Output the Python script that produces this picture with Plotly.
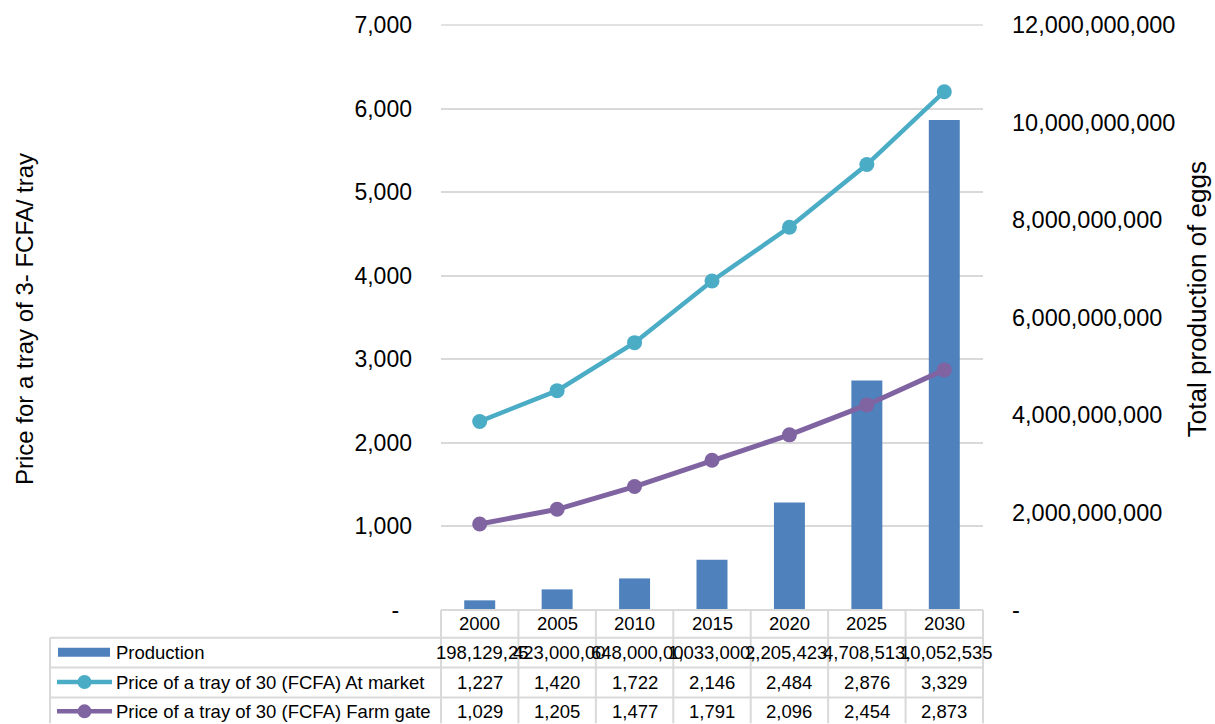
import plotly.graph_objects as go

# ---------------- data ----------------
years = ["2000", "2005", "2010", "2015", "2020", "2025", "2030"]
production = [198129254, 423000000, 648000000, 1033000000, 2205423000, 4708513000, 10052535000]
price_market = [1227, 1420, 1722, 2146, 2484, 2876, 3329]
price_farm = [1029, 1205, 1477, 1791, 2096, 2454, 2873]

series_names = ["Production",
                "Price of a tray of 30 (FCFA) At market",
                "Price of a tray of 30 (FCFA) Farm gate"]
left_title = "Price for a tray of 3- FCFA/ tray"
right_title = "Total production of eggs"

price_ticks = [0, 1000, 2000, 3000, 4000, 5000, 6000, 7000]
prod_ticks = [0, 2e9, 4e9, 6e9, 8e9, 10e9, 12e9]

# ---------------- style ----------------
C_BAR = "#4f81bd"
C_MARKET = "#4bacc6"
C_FARM = "#8064a2"
GRID = "#d9d9d9"
FONT = "Arial, 'Liberation Sans', sans-serif"
TXT = "#000000"

W, H = 1215, 724
PL, PR, PT, PB = 441, 983, 21, 610      # plot area in pixels
ROW = [610, 638, 668, 698, 728]          # table row boundaries
LAB_X0 = 50


def fx(x):
    return (x - PL) / (PR - PL)


def fy(y):
    return (PB - y) / (PB - PT)


def fmt(v):
    return "-" if v == 0 else f"{int(v):,}"


# Excel stacks the market price on top of the farm-gate price
market_stacked = [m + f for m, f in zip(price_market, price_farm)]

fig = go.Figure()
fig.add_trace(go.Bar(x=years, y=production, yaxis="y", marker_color=C_BAR,
                     marker_line_width=0, name=series_names[0]))
fig.add_trace(go.Scatter(x=years, y=price_farm, yaxis="y2", mode="lines+markers",
                         line=dict(color=C_FARM, width=5),
                         marker=dict(size=15, color=C_FARM), name=series_names[2]))
fig.add_trace(go.Scatter(x=years, y=market_stacked, yaxis="y2", mode="lines+markers",
                         line=dict(color=C_MARKET, width=4.5),
                         marker=dict(size=15, color=C_MARKET), name=series_names[1]))

shapes = []
annotations = []


def hline(y, x0, x1, w=2):
    shapes.append(dict(type="line", xref="paper", yref="paper",
                       x0=fx(x0), x1=fx(x1), y0=fy(y), y1=fy(y),
                       line=dict(color=GRID, width=w)))


def vline(x, y0, y1):
    shapes.append(dict(type="line", xref="paper", yref="paper",
                       x0=fx(x), x1=fx(x), y0=fy(y0), y1=fy(y1),
                       line=dict(color=GRID, width=2)))


n = len(years)
colw = (PR - PL) / n
hline(PT, PL, PR, 1.5)   # top gridline (7,000)
hline(ROW[0], PL, PR)
for y in ROW[1:4]:
    hline(y, LAB_X0, PR)
vline(LAB_X0, ROW[1], H)
for k in range(n + 1):
    vline(PL + k * colw, ROW[0], H)

tfont = dict(size=18.5, color=TXT, family=FONT)

# header years
for i, yr in enumerate(years):
    annotations.append(dict(x=i, xref="x", y=fy((ROW[0] + ROW[1]) / 2), yref="paper",
                            text=yr, showarrow=False, xanchor="center", yanchor="middle",
                            font=tfont))

# production row (Excel lets long numbers overflow and clips them)
yc = fy(653)
for i, v in enumerate(production):
    annotations.append(dict(x=i, xref="x", y=yc, yref="paper", text=fmt(v)[:10],
                            showarrow=False, xanchor="left", yanchor="middle", xshift=-46,
                            font=tfont))
# price rows
for yrow, vals in ((682.5, price_market), (712, price_farm)):
    for i, v in enumerate(vals):
        annotations.append(dict(x=i, xref="x", y=fy(yrow), yref="paper", text=fmt(v),
                                showarrow=False, xanchor="center", yanchor="middle",
                                font=tfont))

# legend keys + labels in the table
label_y = [652.5, 682.5, 712]
for name, ly in zip(series_names, label_y):
    annotations.append(dict(x=fx(114), xref="paper", y=fy(ly), yref="paper", text=name,
                            showarrow=False, xanchor="left", yanchor="middle", font=tfont))
shapes.append(dict(type="rect", xref="paper", yref="paper", x0=fx(58), x1=fx(110),
                   y0=fy(657), y1=fy(648), fillcolor=C_BAR, line=dict(width=0)))
for col, ly in ((C_MARKET, label_y[1]), (C_FARM, label_y[2])):
    shapes.append(dict(type="line", xref="paper", yref="paper", x0=fx(57), x1=fx(112),
                       y0=fy(ly), y1=fy(ly), line=dict(color=col, width=4.5)))
    shapes.append(dict(type="circle", xref="paper", yref="paper", x0=fx(77.5), x1=fx(91.5),
                       y0=fy(ly + 7), y1=fy(ly - 7), fillcolor=col, line=dict(width=0)))

# axis titles
annotations.append(dict(x=fx(25), xref="paper", y=fy(317), yref="paper", text=left_title,
                        textangle=-90, showarrow=False, xanchor="center", yanchor="middle",
                        font=dict(size=24, color=TXT, family=FONT)))
annotations.append(dict(x=fx(1197), xref="paper", y=fy(297), yref="paper", text=right_title,
                        textangle=-90, showarrow=False, xanchor="center", yanchor="middle",
                        font=dict(size=26, color=TXT, family=FONT)))

fig.update_layout(
    width=W, height=H,
    margin=dict(l=PL, r=W - PR, t=PT, b=H - PB, pad=0),
    paper_bgcolor="white", plot_bgcolor="white",
    showlegend=False, bargap=0.6,
    font=dict(family=FONT, color=TXT),
    xaxis=dict(type="category", range=[-0.5, n - 0.5], showticklabels=False,
               showgrid=False, zeroline=False, showline=False, ticks=""),
    yaxis=dict(side="right", range=[0, 12e9], tickvals=prod_ticks,
               ticktext=[fmt(v) for v in prod_ticks], showgrid=False, zeroline=False,
               showline=False, ticks="", ticklabelstandoff=28,
               tickfont=dict(size=23.5, color=TXT, family=FONT)),
    yaxis2=dict(side="left", overlaying="y", range=[0, 7000], tickvals=price_ticks,
                ticktext=[fmt(v) + ("\u00a0\u00a0" if v == 0 else "") for v in price_ticks],
                showgrid=True, gridcolor=GRID, gridwidth=1.5, zeroline=False,
                showline=False, ticks="", ticklabelstandoff=28,
                tickfont=dict(size=23, color=TXT, family=FONT)),
    shapes=shapes, annotations=annotations,
)

fig.write_html("out.html")
